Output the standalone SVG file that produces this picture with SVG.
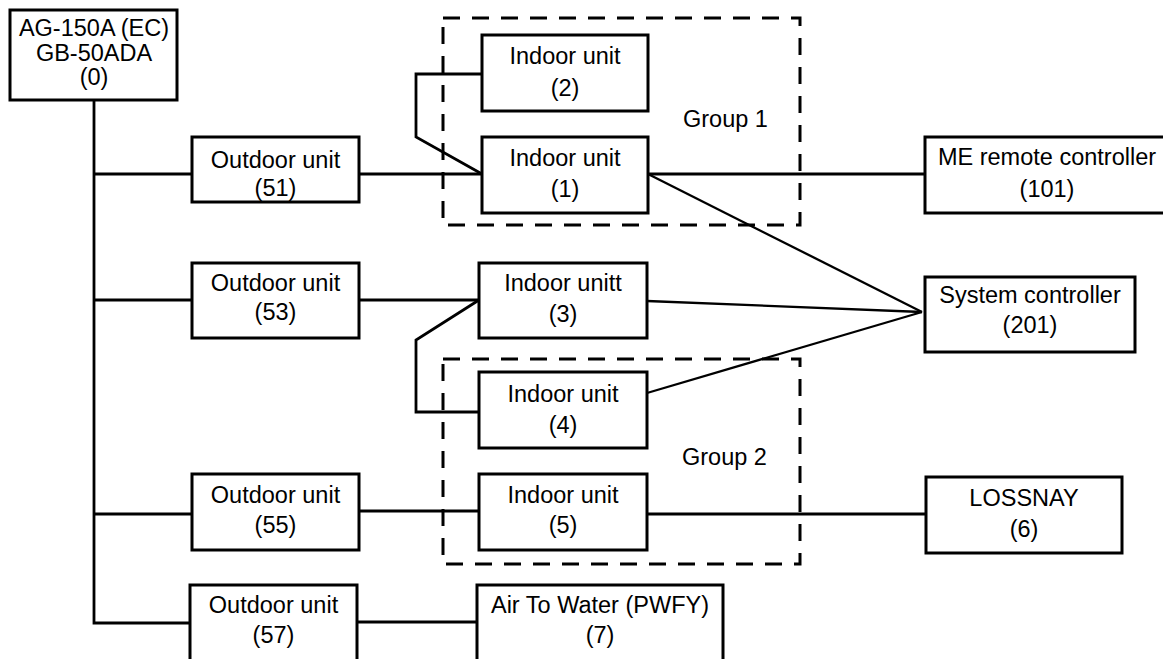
<svg xmlns="http://www.w3.org/2000/svg" width="1163" height="659" viewBox="0 0 1163 659">
<style>
.box{fill:#fff;stroke:#000;stroke-width:3}
.grp{fill:none;stroke:#000;stroke-width:3;stroke-dasharray:17 12}
.ln{fill:none;stroke:#000;stroke-width:2.8;stroke-linejoin:miter}
.dg{fill:none;stroke:#000;stroke-width:2.3}
text{font-family:"Liberation Sans",Arial,sans-serif;font-size:23.5px;fill:#000;text-anchor:middle}
.gl{text-anchor:start}
</style>
<rect width="1163" height="659" fill="#fff"/>
<g id="groups">
<rect id="group1" class="grp" x="443" y="18" width="357" height="207"/>
<rect id="group2" class="grp" x="443" y="359" width="357" height="205"/>
<text class="gl" x="683" y="127">Group 1</text>
<text class="gl" x="682" y="465">Group 2</text>
</g>
<g id="connectors">
<polyline class="ln" points="94,100 94,623 190,623"/>
<line class="ln" x1="94" y1="174" x2="192" y2="174"/>
<line class="ln" x1="94" y1="300" x2="192" y2="300"/>
<line class="ln" x1="94" y1="514" x2="192" y2="514"/>
<line class="ln" x1="359" y1="174" x2="482" y2="174"/>
<polyline class="ln" points="482,74 416,74 416,137 482,174"/>
<line class="ln" x1="648" y1="174" x2="925" y2="174"/>
<line class="dg" x1="648" y1="174" x2="922" y2="312"/>
<line class="ln" x1="359" y1="300" x2="479" y2="300"/>
<polyline class="ln" points="479,300 416,340 416,412 479,412"/>
<line class="dg" x1="647" y1="301" x2="922" y2="312"/>
<line class="dg" x1="647" y1="393" x2="922" y2="312"/>
<line class="ln" x1="359" y1="511" x2="479" y2="511"/>
<line class="ln" x1="647" y1="514" x2="926" y2="514"/>
<line class="ln" x1="357" y1="622" x2="477" y2="622"/>
</g>
<g id="n0"><rect class="box" x="10" y="10" width="167" height="90"/><text x="94" y="36">AG-150A (EC)</text><text x="94" y="61">GB-50ADA</text><text x="94" y="85">(0)</text></g>
<g id="n51"><rect class="box" x="192" y="137" width="167" height="65"/><text x="275.5" y="168">Outdoor unit</text><text x="275.5" y="196">(51)</text></g>
<g id="n53"><rect class="box" x="192" y="263" width="167" height="75"/><text x="275.5" y="291">Outdoor unit</text><text x="275.5" y="320">(53)</text></g>
<g id="n55"><rect class="box" x="192" y="474" width="167" height="76"/><text x="275.5" y="503">Outdoor unit</text><text x="275.5" y="533">(55)</text></g>
<g id="n57"><rect class="box" x="190" y="585" width="167" height="85"/><text x="273.5" y="613">Outdoor unit</text><text x="273.5" y="643">(57)</text></g>
<g id="n2"><rect class="box" x="482" y="35" width="166" height="76"/><text x="565" y="64">Indoor unit</text><text x="565" y="96">(2)</text></g>
<g id="n1"><rect class="box" x="482" y="137" width="166" height="76"/><text x="565" y="166">Indoor unit</text><text x="565" y="197">(1)</text></g>
<g id="n3"><rect class="box" x="479" y="263" width="168" height="75"/><text x="563" y="291">Indoor unitt</text><text x="563" y="322">(3)</text></g>
<g id="n4"><rect class="box" x="479" y="372" width="168" height="76"/><text x="563" y="402">Indoor unit</text><text x="563" y="433">(4)</text></g>
<g id="n5"><rect class="box" x="479" y="474" width="168" height="76"/><text x="563" y="503">Indoor unit</text><text x="563" y="533">(5)</text></g>
<g id="n7"><rect class="box" x="477" y="585" width="246" height="85"/><text x="600" y="613">Air To Water (PWFY)</text><text x="600" y="643">(7)</text></g>
<g id="n101"><rect class="box" x="925" y="137" width="245" height="76"/><text x="1047" y="165">ME remote controller</text><text x="1047" y="197">(101)</text></g>
<g id="n201"><rect class="box" x="925" y="277" width="210" height="75"/><text x="1030" y="303">System controller</text><text x="1030" y="333">(201)</text></g>
<g id="n6"><rect class="box" x="926" y="477" width="196" height="76"/><text x="1024" y="506">LOSSNAY</text><text x="1024" y="537">(6)</text></g>
</svg>
